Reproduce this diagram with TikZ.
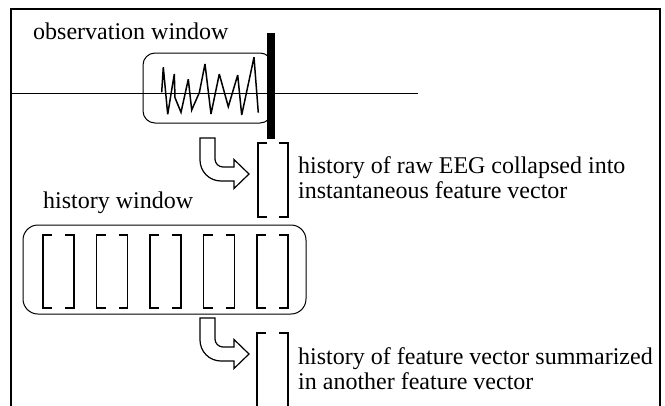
\documentclass[tikz,border=0pt]{standalone}
\usepackage{fontspec}
\setmainfont{Liberation Serif}
\begin{document}
\begin{tikzpicture}[x=1pt,y=-1pt,
  thinline/.style={line width=1pt},
  brk/.style={line width=1.3pt},
  hollow/.style={line width=1.2pt, line join=miter},
  txt/.style={anchor=base west, inner sep=0pt, font=\fontsize{24}{25}\selectfont}]
\useasboundingbox (0,0) rectangle (665,405);
\clip (0,0) rectangle (665,405);

% frame
\draw[line width=2.5pt] (11,420) -- (11,9) -- (660,9) -- (660,420);

% observation window
\node[txt] (obs) at (33,39) {observation window};
\draw[thinline, rounded corners=12] (143,53) rectangle (272,123);
\draw[thinline] (11,93) -- (418,93);
\draw[line width=1.5pt, line join=miter, miter limit=4]
  (161.7,92.3) -- (163.3,67.3) -- (167.7,114.3) -- (174.3,74) -- (175,97.7)
  -- (181,112.3) -- (188.3,79.3) -- (191.7,110) -- (199.3,92.7) -- (205,64)
  -- (211,114) -- (219.3,74) -- (228.3,106.7) -- (237.7,75) -- (241.7,115)
  -- (254,57.3) -- (258.3,112.7);
\fill (267,33) rectangle (275,139);

% hollow arrows
\foreach \dy in {0,180}{
  \begin{scope}[shift={(0,\dy)}]
    \draw[hollow] (200,138) -- (200,160) .. controls (200,171.6) and (209.4,181) .. (221,181)
      -- (234,181) -- (234,188.5) -- (249,174) -- (234,159.5) -- (234,167) -- (223,167)
      .. controls (218.6,167) and (215,163.4) .. (215,159) -- (215,138) -- cycle;
  \end{scope}
}

% feature vector 1
\draw[brk] (267,143) -- (258,143) -- (258,217) -- (267,217);
\draw[brk] (279,143) -- (288,143) -- (288,217) -- (279,217);
\node[txt] (t1a) at (298,173) {history of raw EEG collapsed into};
\node[txt] (t1b) at (298,198) {instantaneous feature vector};

% history window
\node[txt] (hw) at (43,208) {history window};
\draw[thinline, rounded corners=15] (23,225) rectangle (306,314);
\foreach \l in {43,96.5,150,203.5,257}{
  \draw[brk] (\l+9,235) -- (\l,235) -- (\l,308) -- (\l+9,308);
  \draw[brk] (\l+22,235) -- (\l+31,235) -- (\l+31,308) -- (\l+22,308);
}

% feature vector 2
\draw[brk] (266,333) -- (257,333) -- (257,420);
\draw[brk] (279,333) -- (288,333) -- (288,420);
\node[txt] (t2a) at (298,364) {history of feature vector summarized};
\node[txt] (t2b) at (298,389) {in another feature vector};
\end{tikzpicture}
\end{document}
